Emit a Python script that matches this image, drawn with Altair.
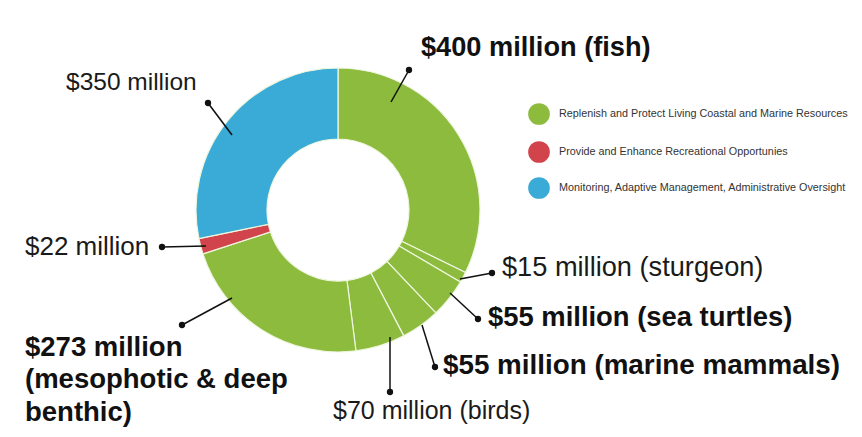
import altair as alt
import pandas as pd

# ---- data ----
segments = ["fish", "sturgeon", "sea turtles", "marine mammals", "birds",
            "mesophotic & deep benthic", "recreational", "monitoring"]
values = [400, 15, 55, 55, 70, 273, 22, 350]
groups = ["living", "living", "living", "living", "living", "living", "rec", "mon"]

legend_labels = ["Replenish and Protect Living Coastal and Marine Resources",
                 "Provide and Enhance Recreational Opportunies",
                 "Monitoring, Adaptive Management, Administrative Oversight"]
legend_groups = ["living", "rec", "mon"]

label_lines = ["$400 million (fish)", "$350 million", "$22 million",
               "$273 million", "(mesophotic & deep", "benthic)",
               "$70 million (birds)", "$55 million (marine mammals)",
               "$55 million (sea turtles)", "$15 million (sturgeon)"]
label_bold = [True, False, False, True, True, True, False, True, True, False]

# ---- styles / layout ----
palette = {"living": "#8dbb3e", "rec": "#d2444c", "mon": "#3aabd6"}
W, H = 846, 421
CX, CY = 330, 202
label_x = [413, 58, 17, 17, 17, 17, 325, 435, 480, 494]
label_y = [40, 75, 239, 340, 372, 405, 403, 358, 310, 260]
label_size = [27.2, 24.5, 26, 27.5, 27.5, 27.5, 25, 27.8, 27.4, 27.2]
# leader lines: dot end (x, y) and slice end (x2, y2)
lead_x = [401, 200, 154, 174, 382, 427, 470, 484]
lead_y = [62, 95, 239, 317, 384, 359, 311, 265]
lead_x2 = [383, 224, 198, 224, 382, 414, 442, 452]
lead_y2 = [94, 127, 238, 290, 329, 317, 285, 271]
leg_x, leg_y = [531, 531, 531], [106, 144, 180]

seg_df = pd.DataFrame({"segment": segments, "value": values,
                       "hex": [palette[g] for g in groups],
                       "idx": list(range(len(values)))})
lab_df = pd.DataFrame({"text": label_lines, "px": label_x, "py": label_y,
                       "size": label_size,
                       "weight": ["bold" if b else "normal" for b in label_bold]})
lead_df = pd.DataFrame({"px": lead_x, "py": lead_y, "px2": lead_x2, "py2": lead_y2})
leg_df = pd.DataFrame({"text": legend_labels, "px": leg_x, "py": leg_y,
                       "hex": [palette[g] for g in legend_groups]})

X = lambda f: alt.X(f, type="quantitative", scale=None, axis=None)
Y = lambda f: alt.Y(f, type="quantitative", scale=None, axis=None)

arcs = alt.Chart(seg_df).mark_arc(
    innerRadius=71, outerRadius=142, stroke="#eef6df", strokeWidth=1.2
).encode(
    theta=alt.Theta("value:Q", stack=True),
    order=alt.Order("idx:Q"),
    color=alt.Color("hex:N", scale=None),
    x=alt.value(CX), y=alt.value(CY),
)

leads = alt.Chart(lead_df).mark_rule(color="#111111", strokeWidth=1.5).encode(
    x=X("px"), y=Y("py"), x2=alt.X2("px2"), y2=alt.Y2("py2"))
dots = alt.Chart(lead_df).mark_circle(color="#111111", opacity=1, size=40).encode(
    x=X("px"), y=Y("py"))

normal = alt.Chart(lab_df[lab_df.weight == "normal"]).mark_text(
    align="left", baseline="middle", font="Liberation Sans", color="#1a1a1a"
).encode(x=X("px"), y=Y("py"), text="text:N",
         size=alt.Size("size:Q", scale=None))
bold = alt.Chart(lab_df[lab_df.weight == "bold"]).mark_text(
    align="left", baseline="middle", font="Liberation Sans", fontWeight="bold",
    color="#111111"
).encode(x=X("px"), y=Y("py"), text="text:N",
         size=alt.Size("size:Q", scale=None))

leg_pts = alt.Chart(leg_df).mark_circle(opacity=1, size=470).encode(
    x=X("px"), y=Y("py"), color=alt.Color("hex:N", scale=None))
leg_txt = alt.Chart(leg_df).mark_text(
    align="left", baseline="middle", font="Liberation Sans", fontSize=10.8,
    color="#333333", dx=20
).encode(x=X("px"), y=Y("py"), text="text:N")

chart = alt.layer(arcs, leads, dots, normal, bold, leg_pts, leg_txt).properties(
    width=W, height=H, padding=0, background="white",
    autosize=alt.AutoSizeParams(type="none")
).configure_view(stroke=None)

chart.save("out.html", embed_options={"renderer": "svg", "actions": False})
